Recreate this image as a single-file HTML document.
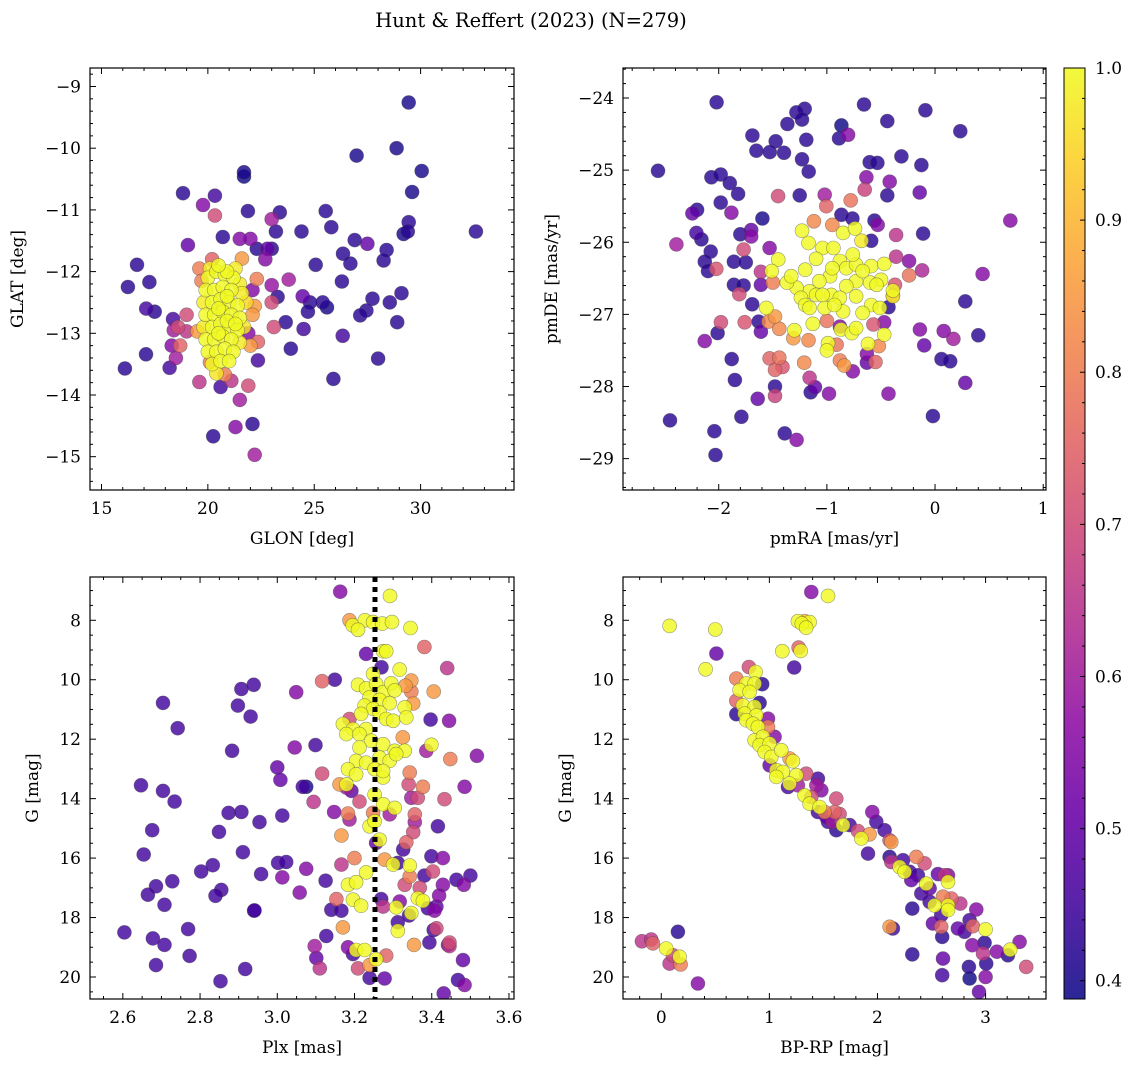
<!DOCTYPE html>
<html><head><meta charset="utf-8"><style>
html,body{margin:0;padding:0;background:#fff;}
svg{display:block;font-family:"DejaVu Serif","Liberation Serif",serif;}
</style></head><body>
<svg id="fig" width="1136" height="1067" viewBox="0 0 1136 1067" xmlns="http://www.w3.org/2000/svg">
<text x="531" y="27" font-size="19.5" text-anchor="middle">Hunt &amp; Reffert (2023) (N=279)</text>
</svg>
<script>
// ---------- data: [x, y, membership probability] ----------
const skyPoints = [
[29.44,-9.26,.4],[28.87,-10.0,.4],[26.99,-10.12,.4],[30.05,-10.37,.4],[21.7,-10.39,.4],[21.7,-10.46,.38],[29.6,-10.71,.4],[18.83,-10.73,.42],[20.33,-10.77,.45],[19.77,-10.92,.55],[20.33,-11.09,.7],[21.88,-11.02,.42],[23.38,-11.04,.42],[25.54,-11.02,.42],[23.0,-11.15,.6],[29.44,-11.2,.42],[29.4,-11.35,.42],[29.2,-11.39,.4],[32.6,-11.35,.42],[24.4,-11.35,.42],[23.2,-11.35,.42],[25.8,-11.28,.42],[20.7,-11.44,.42],[19.06,-11.57,.5],[21.5,-11.47,.55],[22.0,-11.47,.55],[22.3,-11.63,.42],[22.8,-11.63,.5],[23.0,-11.63,.42],[22.7,-11.8,.55],[26.9,-11.49,.42],[27.5,-11.55,.5],[28.4,-11.65,.42],[26.35,-11.71,.42],[28.26,-11.82,.42],[26.7,-11.87,.42],[25.07,-11.89,.42],[16.67,-11.89,.42],[16.24,-12.25,.42],[17.25,-12.17,.42],[17.1,-12.6,.45],[17.5,-12.65,.42],[26.3,-12.16,.42],[23.8,-12.13,.6],[23.0,-12.22,.58],[23.28,-12.41,.42],[24.46,-12.4,.5],[24.8,-12.5,.42],[25.4,-12.5,.42],[25.6,-12.58,.4],[24.7,-12.65,.42],[27.74,-12.44,.42],[27.45,-12.63,.42],[27.16,-12.71,.42],[29.1,-12.35,.42],[28.55,-12.5,.42],[28.9,-12.82,.42],[23.66,-12.82,.42],[24.5,-12.93,.45],[26.34,-13.04,.45],[23.9,-13.25,.42],[28.0,-13.41,.42],[25.9,-13.74,.42],[17.09,-13.34,.42],[16.1,-13.57,.42],[18.2,-13.56,.45],[18.36,-12.77,.45],[19.0,-12.7,.7],[18.4,-12.95,.6],[19.0,-12.97,.65],[18.6,-12.9,.7],[18.3,-13.2,.55],[18.7,-13.2,.75],[18.5,-13.4,.6],[19.6,-13.79,.65],[20.6,-13.87,.45],[21.1,-13.77,.65],[21.9,-13.85,.7],[21.5,-14.08,.6],[21.3,-14.52,.55],[22.1,-14.47,.42],[20.25,-14.67,.42],[22.2,-14.97,.6],[22.35,-13.44,.45],
[19.6,-11.95,.8],[20.2,-11.8,.75],[21.6,-11.79,.85],[22.3,-12.12,.8],[22.2,-12.56,.85],[22.1,-12.7,.85],[22.0,-13.2,.85],[22.35,-13.14,.75],[19.5,-12.97,.85],[20.1,-13.47,.8],[20.8,-13.67,.8],[23.0,-12.5,.7],[23.1,-12.9,.7],[19.7,-12.15,.8],[22.1,-12.3,.55],[21.9,-13.0,.55],
[20.0,-12.1,1],[20.4,-12.0,1],[20.8,-12.05,1],[21.2,-12.1,1],[21.5,-12.2,.98],[19.9,-12.3,1],[20.3,-12.3,1],[20.7,-12.25,1],[21.1,-12.3,1],[21.6,-12.35,.98],[19.8,-12.5,.98],[20.2,-12.5,1],[20.6,-12.45,1],[21.0,-12.5,1],[21.4,-12.55,1],[21.8,-12.5,.95],[19.9,-12.7,1],[20.3,-12.7,1],[20.7,-12.65,1],[21.1,-12.7,1],[21.5,-12.75,1],[19.8,-12.9,.98],[20.2,-12.9,1],[20.6,-12.85,1],[21.0,-12.9,1],[21.4,-12.95,1],[19.9,-13.1,1],[20.3,-13.1,1],[20.7,-13.05,1],[21.1,-13.1,1],[21.5,-13.15,.98],[20.0,-13.3,1],[20.4,-13.3,1],[20.8,-13.25,1],[21.2,-13.3,1],[20.2,-13.5,1],[20.6,-13.45,1],[20.4,-13.65,.97],[20.9,-12.0,1],[21.3,-11.95,.98],[20.5,-11.9,1],[21.0,-13.45,1],[20.9,-12.4,1],[20.5,-12.6,1],[20.5,-13.0,1],[20.9,-12.8,1],[21.3,-12.85,1],[21.7,-12.9,.97],[20.1,-11.95,.98]
];
const pmPoints = [
[-2.02,-24.06,.42],[-1.205,-24.15,.42],[-1.282,-24.2,.42],[-1.23,-24.3,.42],[-1.365,-24.36,.42],[-0.657,-24.09,.42],[-0.089,-24.17,.42],[-0.866,-24.38,.38],[-0.804,-24.51,.55],[-0.888,-24.56,.42],[-0.441,-24.32,.42],[0.234,-24.46,.42],[-1.689,-24.52,.42],[-1.473,-24.6,.42],[-1.19,-24.58,.42],[-1.652,-24.73,.42],[-1.528,-24.75,.42],[-1.396,-24.76,.42],[-1.23,-24.85,.42],[-1.168,-25.02,.42],[-2.561,-25.01,.42],[-0.604,-24.89,.42],[-0.533,-24.9,.42],[-0.311,-24.81,.42],[-0.126,-24.93,.42],[-2.068,-25.1,.42],[-1.982,-25.06,.42],[-1.898,-25.18,.42],[-1.821,-25.33,.42],[-1.982,-25.45,.42],[-0.635,-25.1,.55],[-0.419,-25.16,.55],[-0.65,-25.27,.68],[-0.441,-25.35,.42],[-0.142,-25.31,.5],[-1.451,-25.36,.7],[-1.251,-25.35,.42],[-1.02,-25.34,.6],[-1.005,-25.5,.75],[-0.78,-25.42,.78],[-2.243,-25.6,.5],[-2.2,-25.55,.42],[-1.883,-25.59,.55],[-1.596,-25.67,.4],[-0.866,-25.62,.42],[-0.764,-25.67,.42],[0.696,-25.7,.55],[-2.206,-25.87,.45],[-2.16,-25.96,.42],[-2.391,-26.03,.6],[-2.074,-26.13,.42],[-2.129,-26.27,.42],[-2.099,-26.4,.42],[-2.022,-26.37,.72],
[-1.80,-25.89,.42],[-1.70,-25.83,.5],[-1.70,-25.92,.55],[-1.53,-26.08,.55],[-1.77,-26.10,.7],[-1.86,-26.27,.42],[-1.75,-26.28,.42],[-1.12,-25.71,.82],[-0.95,-25.76,.82],[-0.56,-25.70,.42],[-0.53,-25.76,.55],[-0.36,-25.90,.65],[-0.59,-25.98,.42],[-0.11,-25.88,.42],[-0.36,-26.20,.65],[-0.24,-26.26,.55],[-0.12,-26.39,.62],[-0.24,-26.46,.78],[0.44,-26.44,.55],[0.28,-26.82,.42],[0.40,-27.29,.42],[-0.14,-27.21,.55],[-0.10,-27.43,.5],[0.08,-27.23,.55],[0.17,-27.34,.6],[0.06,-27.62,.42],[0.14,-27.65,.42],[0.28,-27.95,.5],[-0.02,-28.41,.42],[-0.43,-28.10,.55],[-1.98,-27.11,.7],[-2.01,-27.26,.42],[-2.13,-27.37,.55],[-1.88,-27.62,.42],[-1.85,-27.91,.42],[-2.45,-28.47,.42],[-2.04,-28.62,.42],[-2.03,-28.95,.42],[-1.79,-28.42,.42],[-1.64,-28.17,.5],[-1.39,-28.65,.42],[-1.28,-28.74,.55],[-1.48,-28.0,.42],[-1.48,-28.13,.68],[-1.53,-27.61,.75],[-1.44,-27.60,.78],[-1.48,-27.77,.75],[-1.41,-27.73,.72],[-1.76,-27.11,.72],[-1.63,-27.10,.42],[-1.61,-27.24,.5],[-1.54,-27.10,.82],[-1.48,-27.03,.85],[-1.44,-27.20,.82],[-1.81,-26.72,.7],[-1.86,-26.59,.42],[-1.77,-26.60,.42],[-1.69,-26.86,.42],[-1.61,-26.59,.5],[-1.61,-26.41,.65],[-1.50,-26.56,.8],[-1.21,-27.67,.82],[-1.17,-27.36,.82],[-1.31,-27.33,.85],[-1.16,-27.88,.65],[-1.11,-28.01,.5],[-1.15,-28.08,.42],[-0.98,-28.10,.55],[-0.88,-27.64,.8],[-0.84,-27.71,.85],[-0.76,-27.79,.55],[-0.63,-27.67,.5],[-0.55,-27.66,.75],[-0.63,-27.55,.55],[-0.52,-27.44,.82],[-0.47,-27.11,.55],[-0.57,-27.14,.72],[-1.00,-27.09,.78],[-0.91,-27.42,.78],[-0.88,-27.17,.55],[-0.43,-26.90,.42],[-0.37,-26.59,.72],[-0.39,-26.74,.72],
[-1.23,-25.84,1],[-1.17,-26.01,1],[-1.04,-26.08,1],[-0.94,-26.08,1],[-0.85,-25.87,1],[-0.74,-25.81,1],[-0.68,-25.98,.98],[-1.10,-26.23,1],[-1.20,-26.38,1],[-0.97,-26.47,1],[-0.88,-26.26,1],[-0.82,-26.36,1],[-0.73,-26.31,1],[-0.59,-26.33,1],[-0.47,-26.30,1],[-0.50,-26.52,1],[-0.60,-26.56,1],[-0.73,-26.54,1],[-0.82,-26.61,1],[-0.96,-26.73,1],[-1.07,-26.54,1],[-1.16,-26.68,1],[-1.28,-26.63,1],[-1.37,-26.56,1],[-1.33,-26.47,1],[-1.24,-26.77,1],[-1.10,-26.73,1],[-0.88,-26.77,1],[-0.73,-26.75,1],[-0.59,-26.87,1],[-0.67,-26.98,1],[-0.85,-26.96,1],[-1.02,-26.91,1],[-0.39,-26.67,1],[-0.39,-26.75,.98],[-1.45,-26.24,1],[-1.51,-26.40,1],[-1.56,-26.91,1],[-1.30,-27.22,1],[-1.13,-27.13,1],[-0.87,-27.21,1],[-0.77,-27.26,1],[-0.73,-27.19,1],[-0.47,-27.28,1],[-0.62,-27.41,1],[-0.99,-27.40,1],[-1.00,-27.50,1],[-1.20,-26.87,1],[-1.04,-26.73,1],[-0.76,-26.17,1],[-0.95,-26.36,1],[-0.67,-26.40,1],[-0.54,-26.59,1],[-0.93,-26.87,1],[-1.16,-26.91,1],[-0.51,-26.91,1]
];
const plxPoints = [
[3.163,7.04,.55],[3.292,7.18,1],[3.187,8.0,.85],[3.195,8.17,1],[3.227,8.0,1],[3.248,8.06,1],[3.272,8.11,1],[3.297,8.06,1],[3.209,8.32,1],[3.345,8.26,1],[3.381,8.9,.75],[3.23,9.13,.5],[3.274,9.04,1],[3.282,9.04,1],[3.27,9.58,.45],[3.317,9.66,1],[3.44,9.61,.65],[3.248,9.8,1],[3.116,10.05,.75],[3.149,10.0,.45],[2.907,10.31,.45],[2.939,10.17,.45],[3.049,10.42,.55],[2.704,10.78,.45],[2.898,10.87,.45],[2.931,11.24,.45],[2.742,11.63,.45],[3.347,10.03,.85],[3.332,10.2,.85],[3.405,10.4,.85],[3.347,10.4,.8],[3.352,10.8,.85],
[3.209,10.17,1],[3.23,10.29,1],[3.256,10.14,1],[3.274,10.42,1],[3.295,10.12,1],[3.304,10.36,1],[3.239,10.59,1],[3.265,10.68,1],[3.291,10.79,1],[3.226,10.87,1],[3.248,10.98,1],[3.265,11.1,1],[3.282,11.32,1],[3.3,11.38,1],[3.33,10.93,1],[3.334,11.27,1],[3.217,11.15,1],[3.187,11.32,.7],[3.17,11.49,1],[3.196,11.66,1],[3.23,11.66,1],[3.179,11.83,1],[3.213,11.83,1],[3.243,12.05,1],[3.274,12.17,1],[3.304,12.39,1],[3.33,12.39,1],[3.213,12.28,1],[3.204,12.73,1],[3.23,12.79,1],[3.265,12.62,1],[3.291,12.73,1],[3.308,12.5,1],[3.252,13.01,1],[3.183,13.01,1],[3.204,13.18,1],[3.274,13.29,1],[3.274,13.07,1],[3.179,13.52,1],[3.252,13.86,1],[3.274,14.19,1],[3.304,14.31,1],[3.239,14.93,1],[3.265,15.38,1],[3.252,14.76,1],
[3.397,11.34,.45],[3.445,11.38,.55],[3.325,11.94,.85],[3.399,12.19,1],[3.386,12.39,.6],[3.448,12.67,.8],[3.517,12.56,.55],[3.045,12.28,.55],[3.099,12.2,.45],[2.883,12.39,.45],[3.0,12.95,.5],[3.008,13.37,.5],[3.116,13.16,.7],[3.066,13.6,.45],[3.075,13.6,.4],[2.647,13.55,.45],[2.704,13.74,.45],[2.734,14.1,.45],[3.094,14.11,.65],[3.161,13.52,.85],[3.179,13.63,.6],[3.192,13.74,.5],[3.213,14.1,.7],[3.343,13.12,.8],[3.34,13.52,.7],[3.377,13.6,.8],[3.364,13.97,.7],[3.347,13.97,.6],[3.433,14.02,.7],[3.485,13.6,.55],
[2.874,14.48,.45],[2.907,14.45,.45],[2.954,14.79,.45],[3.013,14.57,.45],[3.147,14.45,.55],[3.183,14.5,.8],[3.187,14.7,.6],[3.248,14.48,.8],[3.291,14.53,.6],[3.356,14.53,.75],[3.356,14.79,.6],[3.416,14.93,.45],[2.676,15.06,.45],[2.849,15.12,.45],[3.166,15.24,.85],[3.256,15.49,.5],[3.334,15.47,.75],[3.352,15.13,.7],[3.326,15.71,.45],[2.654,15.88,.45],[2.911,15.8,.45],[3.399,15.94,.45],[3.429,16.0,.55],[3.2,16.0,.8],[3.278,16.05,.85],[3.3,16.22,1],[3.312,16.16,.45],[3.343,16.25,1],[3.166,16.22,.65],[3.002,16.16,.45],[3.023,16.13,.45],[3.075,16.36,.55],[2.833,16.24,.45],[2.803,16.45,.45],[2.958,16.54,.45],[3.013,16.65,.55],[3.23,16.48,1],[3.343,16.62,.8],[3.381,16.59,.45],[3.403,16.45,.7],[3.464,16.73,.45],[3.5,16.59,.45],[3.483,16.9,.55],
[2.728,16.78,.45],[2.686,16.95,.45],[2.665,17.23,.45],[2.708,17.57,.45],[2.855,17.07,.45],[2.84,17.27,.45],[2.94,17.77,.45],[3.058,17.16,.55],[3.125,16.76,.45],[3.183,16.9,1],[3.204,16.81,1],[3.33,16.9,.7],[3.369,17.0,.7],[3.429,16.9,.55],[3.153,17.38,.75],[3.196,17.4,1],[3.217,17.6,1],[3.269,17.38,.45],[3.274,17.63,.65],[3.317,17.46,.55],[3.308,17.66,1],[3.364,17.35,1],[3.377,17.44,1],[3.412,17.63,.5],[3.39,17.69,.45],[3.419,17.26,.55],[3.14,17.74,.45],[3.166,17.77,.45],[3.347,17.85,1],[3.407,17.77,.55],
[3.312,18.16,.45],[3.312,18.45,1],[3.341,17.93,.45],[3.405,18.42,.45],[3.412,18.36,.7],[3.354,18.92,.85],[3.394,18.84,.45],[3.446,18.84,.7],[3.442,18.92,.55],[2.604,18.5,.45],[2.678,18.7,.45],[2.708,18.92,.45],[2.769,18.39,.45],[2.773,19.29,.45],[2.686,19.6,.45],[2.917,19.73,.45],[2.853,20.14,.45],[2.941,17.76,.45],[3.127,18.62,.45],[3.097,18.96,.6],[3.101,19.36,.5],[3.11,19.71,.65],[3.17,18.33,.85],[3.183,19.0,.55],[3.196,19.23,.45],[3.204,19.09,1],[3.226,19.09,1],[3.209,19.71,.7],[3.239,19.6,.85],[3.256,19.4,1],[3.282,19.28,.75],[3.239,20.03,.45],[3.278,20.05,.5],[3.481,19.43,.5],[3.468,20.1,.45],[3.485,20.27,.55],[3.431,20.55,.5],[3.446,18.96,.65]
];
const cmdPoints = [
[1.388,7.05,.55],[1.542,7.18,1],[0.077,8.19,1],[0.50,8.31,1],[1.264,8.03,1],[1.326,8.03,.9],[1.372,8.06,1],[1.30,8.11,1],[1.34,8.25,1],[0.51,9.12,.5],[1.12,9.04,1],[1.27,8.92,.75],[1.29,9.03,1],[0.41,9.65,1],[1.23,9.59,.45],
[0.811,9.57,.7],[0.873,9.74,1],[0.934,10.15,.42],[0.694,9.96,.8],[0.786,10.13,1],[0.863,10.13,1],[0.725,10.35,1],[0.817,10.41,1],[0.910,10.78,.42],[0.694,10.71,.75],[0.755,10.86,1],[0.863,10.91,1],[0.694,11.16,.42],[0.771,11.14,1],[0.879,11.2,1],[0.987,11.31,.55],[0.786,11.36,1],[0.848,11.48,1],[0.894,11.59,1],[0.987,11.59,.8],[1.048,11.92,.55],[0.863,12.04,1],[0.940,11.92,1],[0.910,12.2,1],[1.002,12.15,1],[0.956,12.43,1],[1.018,12.6,1],[1.110,12.37,1],[1.187,12.65,.85],[1.218,12.74,1],[1.002,12.88,.5],[1.064,13.04,1],[1.125,13.1,1],[1.249,13.21,1],[1.341,13.16,.7],[1.449,13.33,.45],[1.064,13.27,1],[1.187,13.49,1],[1.172,13.61,.45],[1.264,13.55,.6],[1.434,13.55,.6],[1.326,13.89,1],[1.388,13.94,.7],[1.372,14.17,1],[1.619,14.0,.7],[1.465,14.28,1],[1.449,14.45,.45],[1.511,14.45,.8],[1.603,14.45,.75],[1.650,14.52,.7],[1.542,14.78,.45],[1.588,14.78,.6],[1.619,15.06,.42],[1.681,14.89,1],[1.742,14.89,.45],[1.819,15.09,.7],[1.850,15.34,1],[1.927,15.20,.85],[1.952,14.45,.55],[1.989,14.78,.45],[1.912,15.85,.45],[2.066,15.06,.45],[2.112,15.40,.7],[2.128,15.46,.85],[2.112,15.96,.42],[2.128,16.13,.65],[2.236,16.07,.45],[2.205,16.30,1],[2.251,16.46,1],[2.297,16.46,.45],[2.313,16.74,.5],[2.359,15.96,.8],[2.436,16.18,.7],[2.374,16.58,.45],[2.405,17.19,.45],[2.451,16.86,1],[2.482,17.02,.5],[2.559,16.54,.5],[2.621,16.58,.65],[2.652,16.58,.55],[2.652,16.80,1],[2.528,17.59,1],[2.482,17.47,.45],[2.606,17.30,.8],[2.683,17.36,.75],[2.652,17.59,1],[2.652,17.75,1],[2.766,17.53,.65],[2.590,17.92,.45],[2.513,18.20,.5],[2.590,18.31,.75],[2.744,18.37,.5],[2.806,18.48,.45],[2.883,18.29,.75],[2.914,17.73,.55],[2.852,18.09,.45],[3.0,18.40,1],[2.991,18.85,.42],[2.877,18.93,.55],[2.599,18.65,.42],[2.322,17.70,.42],[2.322,19.24,.42],[2.606,19.38,.5],[2.599,19.94,.45],[2.846,19.66,.42],[2.852,20.05,.38],[2.939,20.50,.5],[3.006,19.55,.42],[3.0,20.0,.55],[2.976,19.21,.65],[3.105,19.15,.55],[3.207,19.27,.42],[3.228,19.08,1],[3.315,18.82,.55],[3.376,19.66,.7],[2.112,18.31,.85],[2.143,18.37,.45],[1.480,13.72,.55],[1.526,14.61,.5],
[-0.179,18.8,.65],[-0.093,18.74,.65],[-0.077,18.87,.75],[0.046,19.04,1],[0.154,18.48,.42],[0.108,19.27,.7],[0.170,19.32,1],[0.179,19.58,.8],[0.077,19.55,.65],[0.339,20.22,.55]
];
const cbarTicks = [0.4,0.5,0.6,0.7,0.8,0.9,1.0];
const VMIN = 0.388, VMAX = 1.0;

// ---------- helpers ----------
const NS = "http://www.w3.org/2000/svg";
const svg = document.getElementById('fig');
function el(tag, attrs, parent){
  const e = document.createElementNS(NS, tag);
  for (const k in attrs) e.setAttribute(k, attrs[k]);
  (parent||svg).appendChild(e);
  return e;
}
const PLASMA = ["#0d0887","#41049d","#6a00a8","#8f0da4","#b12a90","#cc4778","#e16462","#f2844b","#fca636","#fcce25","#f0f921"];
function hex(h){return [parseInt(h.substr(1,2),16),parseInt(h.substr(3,2),16),parseInt(h.substr(5,2),16)];}
function plasma(t){
  t=Math.max(0,Math.min(1,t))*10; const i=Math.min(9,Math.floor(t)); const f=t-i;
  const a=hex(PLASMA[i]), b=hex(PLASMA[i+1]);
  return "rgb("+a.map((v,j)=>Math.round(v+(b[j]-v)*f)).join(",")+")";
}
function colorOf(p){return plasma((p-VMIN)/(VMAX-VMIN));}
function fmt(v,d){const s=Math.abs(v).toFixed(d);return (v<-1e-9?"\u2212":"")+s;}

function panel(cfg){
  const g = el('g',{});
  
  
  const {L,T,R,B,xmin,xmax,ymin,ymax} = cfg;
  const sx = v => L + (v-xmin)/(xmax-xmin)*(R-L);
  const sy = v => cfg.invert ? T + (v-ymin)/(ymax-ymin)*(B-T) : B - (v-ymin)/(ymax-ymin)*(B-T);
  const clip = el('clipPath',{id:cfg.name+'-clip'},g);
  el('rect',{x:L,y:T,width:R-L,height:B-T},clip);
  const pts = el('g',{'clip-path':'url(#'+cfg.name+'-clip)'},g);
  
  
  const sorted = cfg.data.slice().sort((a,b)=>a[2]-b[2]);
  sorted.forEach(d=>{
    const c = el('circle',{cx:sx(d[0]).toFixed(1),cy:sy(d[1]).toFixed(1),r:7,fill:colorOf(d[2]),'fill-opacity':0.82,stroke:'rgba(70,70,70,0.55)','stroke-width':0.6},pts);
    
    
  });
  if (cfg.vline!==undefined){
    const ln = el('line',{x1:sx(cfg.vline),x2:sx(cfg.vline),y1:T,y2:B,stroke:'#000','stroke-width':5,'stroke-dasharray':'5 5'},g);
    
    
  }
  el('rect',{x:L,y:T,width:R-L,height:B-T,fill:'none',stroke:'#000','stroke-width':1.2},g);
  const tk = el('g',{stroke:'#000','stroke-width':1},g);
  const eps=1e-6;
  for (let v=Math.ceil(xmin/cfg.xminor)*cfg.xminor; v<=xmax+eps; v+=cfg.xminor){
    const x=sx(v); const major = Math.abs(v/cfg.xmajor-Math.round(v/cfg.xmajor))<1e-4; const len=major?6:3;
    el('line',{x1:x,x2:x,y1:B,y2:B-len},tk); el('line',{x1:x,x2:x,y1:T,y2:T+len},tk);
  }
  const y0=Math.min(ymin,ymax), y1=Math.max(ymin,ymax);
  for (let v=Math.ceil(y0/cfg.yminor)*cfg.yminor; v<=y1+eps; v+=cfg.yminor){
    const y=sy(v); const major = Math.abs(v/cfg.ymajor-Math.round(v/cfg.ymajor))<1e-4; const len=major?6:3;
    el('line',{x1:L,x2:L+len,y1:y,y2:y},tk); el('line',{x1:R,x2:R-len,y1:y,y2:y},tk);
  }
  cfg.xticks.forEach(v=>{
    const t=el('text',{x:sx(v),y:B+24,'font-size':17,'text-anchor':'middle'},g); t.textContent=fmt(v,cfg.xdec);
     
  });
  cfg.yticks.forEach(v=>{
    const t=el('text',{x:L-9,y:sy(v)+6,'font-size':17,'text-anchor':'end'},g); t.textContent=fmt(v,0);
     
  });
  const xl=el('text',{x:(L+R)/2,y:B+54,'font-size':17,'text-anchor':'middle'},g); xl.textContent=cfg.xlabel;
   
  const yx=cfg.ylabx, yc=(T+B)/2;
  const yl=el('text',{x:yx,y:yc,'font-size':17,'text-anchor':'middle',transform:'rotate(-90 '+yx+' '+yc+')'},g); yl.textContent=cfg.ylabel;
   
}

panel({name:'sky-position-panel',data:skyPoints,L:90,T:68,R:514,B:490,xmin:14.46,xmax:34.39,ymin:-15.54,ymax:-8.70,
  xminor:1,xmajor:5,yminor:0.2,ymajor:1,xticks:[15,20,25,30],yticks:[-9,-10,-11,-12,-13,-14,-15],xdec:0,
  xlabel:'GLON [deg]',ylabel:'GLAT [deg]',ylabx:23});
panel({name:'proper-motion-panel',data:pmPoints,L:623,T:68,R:1046,B:490,xmin:-2.885,xmax:1.026,ymin:-29.435,ymax:-23.584,
  xminor:0.2,xmajor:1,yminor:0.2,ymajor:1,xticks:[-2,-1,0,1],yticks:[-24,-25,-26,-27,-28,-29],xdec:0,
  xlabel:'pmRA [mas/yr]',ylabel:'pmDE [mas/yr]',ylabx:557});
panel({name:'parallax-magnitude-panel',data:plxPoints,L:90,T:577,R:514,B:999,xmin:2.515,xmax:3.613,ymin:6.544,ymax:20.74,invert:true,
  xminor:0.05,xmajor:0.2,yminor:0.5,ymajor:2,xticks:[2.6,2.8,3.0,3.2,3.4,3.6],yticks:[8,10,12,14,16,18,20],xdec:1,
  xlabel:'Plx [mas]',ylabel:'G [mag]',ylabx:38,vline:3.253});
panel({name:'color-magnitude-panel',data:cmdPoints,L:623,T:577,R:1046,B:999,xmin:-0.354,xmax:3.559,ymin:6.544,ymax:20.74,invert:true,
  xminor:0.2,xmajor:1,yminor:0.5,ymajor:2,xticks:[0,1,2,3],yticks:[8,10,12,14,16,18,20],xdec:0,
  xlabel:'BP-RP [mag]',ylabel:'G [mag]',ylabx:571});

// ---------- colorbar ----------
(function(){
  const g = el('g',{});
  
  
  const L=1064,R=1085,T=68,B=999;
  const defs=el('defs',{},g);
  const grad=el('linearGradient',{id:'cbgrad',x1:0,y1:1,x2:0,y2:0},defs);
  for(let i=0;i<=20;i++){el('stop',{offset:(i/20),'stop-color':plasma(i/20),'stop-opacity':0.88},grad);}
  el('rect',{x:L,y:T,width:R-L,height:B-T,fill:'url(#cbgrad)',stroke:'#000','stroke-width':1},g);
  const sy=v=>B-(v-VMIN)/(VMAX-VMIN)*(B-T);
  for(let v=0.40; v<=1.0001; v+=0.02){
    const y=sy(v); const major=Math.abs(v*10-Math.round(v*10))<1e-3;
    el('line',{x1:R,x2:R-(major?5:3),y1:y,y2:y,stroke:'#000','stroke-width':1},g);
  }
  cbarTicks.forEach(v=>{
    const t=el('text',{x:1095,y:sy(v)+6,'font-size':17},g); t.textContent=v.toFixed(1);
     
  });
})();
</script>
</body></html>
